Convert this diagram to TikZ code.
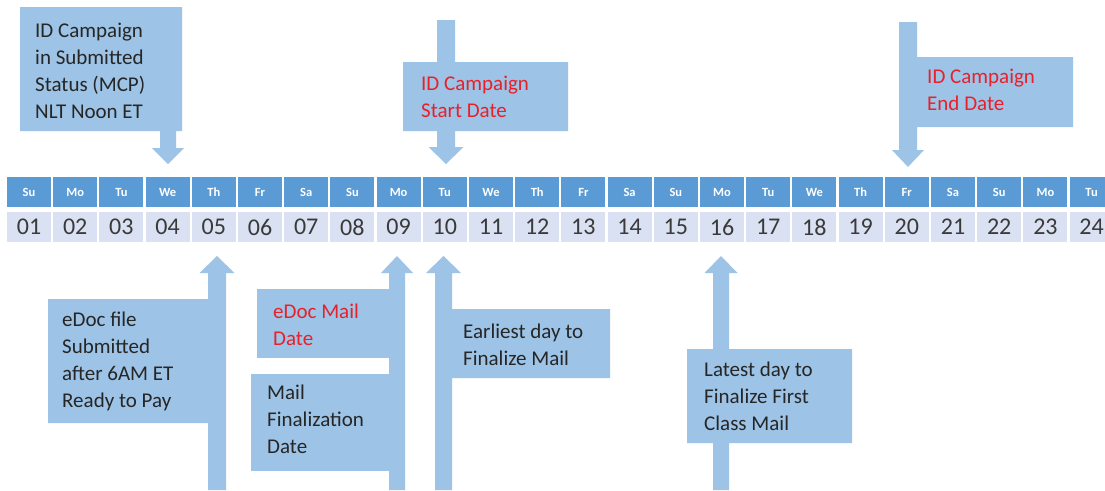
\documentclass[tikz,border=0pt]{standalone}
\usepackage{fontspec}
\setmainfont{Carlito}
\definecolor{hdr}{HTML}{5B9BD5}
\definecolor{numc}{HTML}{D9E1F2}
\definecolor{call}{HTML}{9DC3E6}
\definecolor{redt}{HTML}{E8202A}
\definecolor{dark}{HTML}{262626}
\definecolor{numt}{HTML}{3A3A3A}
\tikzset{
  hdrcell/.style={fill=hdr, minimum width=44pt, minimum height=30pt, inner sep=0pt, text=white, font=\fontsize{12.5}{14}\selectfont\bfseries},
  numcell/.style={fill=numc, minimum width=44pt, minimum height=30pt, inner sep=0pt, text=numt, font=\fontsize{24}{28}\selectfont},
  calltext/.style={anchor=north west, inner sep=0pt, align=left, text=dark, font=\fontsize{21}{27}\selectfont},
  redtext/.style={calltext, text=redt},
  callshape/.style={fill=call}
}
\begin{document}
\begin{tikzpicture}[x=1pt,y=-1pt]
\useasboundingbox (0,0) rectangle (1105,490);
% calendar
\foreach \d [count=\i from 0] in {Su,Mo,Tu,We,Th,Fr,Sa,Su,Mo,Tu,We,Th,Fr,Sa,Su,Mo,Tu,We,Th,Fr,Sa,Su,Mo,Tu}
  \node[hdrcell] (h\i) at ({29+46.2*\i},192) {\d};
\foreach \n [count=\i from 0] in {01,02,03,04,05,06,07,08,09,10,11,12,13,14,15,16,17,18,19,20,21,22,23,24}
  \node[numcell] (n\i) at ({29+46.2*\i},227) {\n};

% A: top-left callout, down arrow to 04
\fill[callshape] (20,7) -- (182,7) -- (182,131) -- (176,131) -- (176,148) -- (184,148)
  -- (168,164) -- (152,148) -- (160,148) -- (160,131) -- (20,131) -- cycle;
\node[calltext] (ta) at (35,23) {ID Campaign\\in Submitted\\Status (MCP)\\NLT Noon ET};

% B: start date callout, arrow through box to 10
\fill[callshape] (437,20) -- (455,20) -- (455,62) -- (568,62) -- (568,131) -- (455,131)
  -- (455,147) -- (463.5,147) -- (446,164) -- (428.5,147) -- (437,147) -- (437,131)
  -- (403,131) -- (403,62) -- (437,62) -- cycle;
\node[redtext] (tb) at (421,76) {ID Campaign\\Start Date};

% C: end date callout, arrow to 20
\fill[callshape] (899,22) -- (917,22) -- (917,57) -- (1073,57) -- (1073,127) -- (917,127)
  -- (917,150) -- (924,150) -- (908,167) -- (892,150) -- (899,150) -- cycle;
\node[redtext] (tc) at (927,69) {ID Campaign\\End Date};

% D: eDoc file, up arrow to 05
\fill[callshape] (217,256) -- (234.5,273) -- (226,273) -- (226,490) -- (208,490) -- (208,423)
  -- (48,423) -- (48,299) -- (208,299) -- (208,273) -- (199.5,273) -- cycle;
\node[calltext] (td) at (62,312) {eDoc file\\Submitted\\after 6AM ET\\Ready to Pay};

% E: arrow to 09 with two boxes
\fill[callshape] (397,256) -- (413,273) -- (405,273) -- (405,490) -- (389,490) -- (389,273)
  -- (381,273) -- cycle;
\fill[callshape] (257,289) rectangle (390,358);
\fill[callshape] (251,374) rectangle (390,471);
\node[redtext] (te1) at (273,304) {eDoc Mail\\Date};
\node[calltext] (te2) at (267,385) {Mail\\Finalization\\Date};

% F: arrow to 10, earliest day
\fill[callshape] (443.5,256) -- (461,273) -- (452,273) -- (452,309) -- (610,309) -- (610,378)
  -- (452,378) -- (452,490) -- (435,490) -- (435,273) -- (426,273) -- cycle;
\node[calltext] (tf) at (463,324) {Earliest day to\\Finalize Mail};

% G: arrow to 16, latest day
\fill[callshape] (721,256) -- (737.5,273) -- (729,273) -- (729,349) -- (852,349) -- (852,443)
  -- (729,443) -- (729,490) -- (713,490) -- (713,443) -- (687,443) -- (687,349) -- (713,349)
  -- (713,273) -- (704.5,273) -- cycle;
\node[calltext] (tg) at (704,362) {Latest day to\\Finalize First\\Class Mail};
\end{tikzpicture}
\end{document}
